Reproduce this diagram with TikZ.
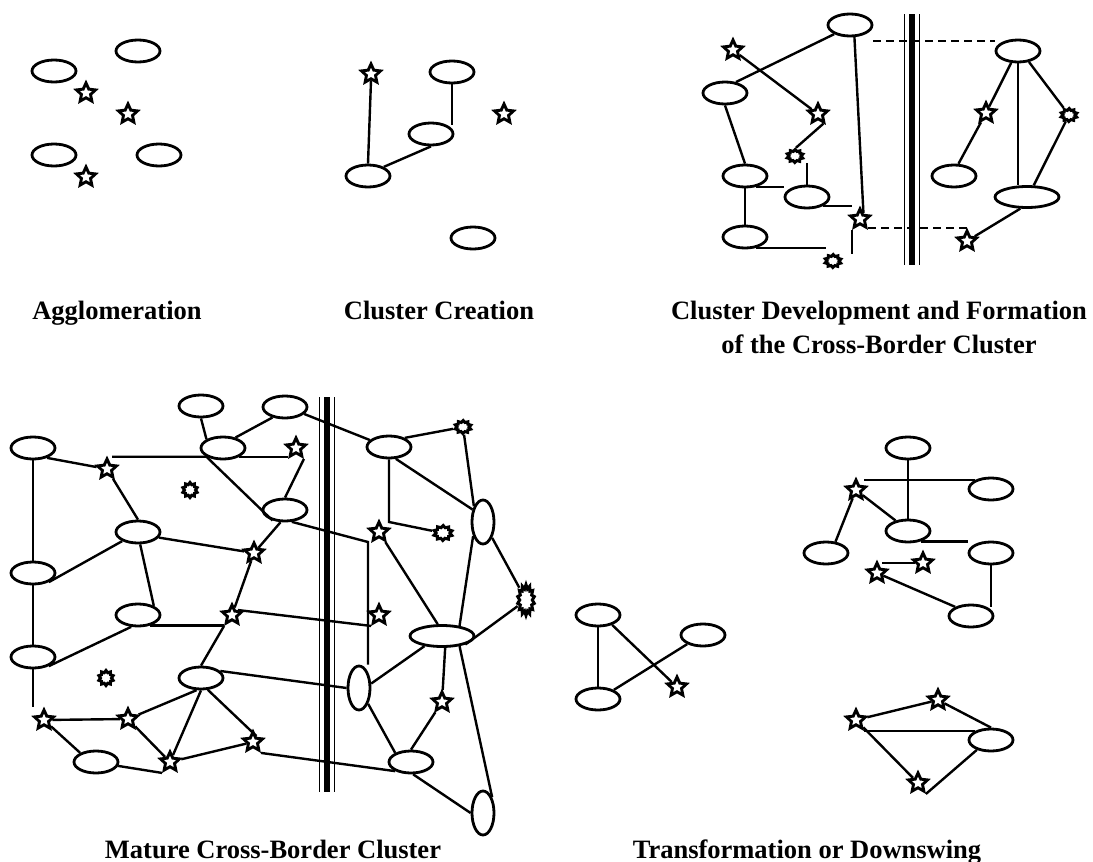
\documentclass[tikz,border=0pt]{standalone}
\usepackage{fontspec}
\setmainfont{Liberation Serif}
\usetikzlibrary{shapes.geometric}

\begin{document}
\begin{tikzpicture}[x=1pt,y=-1pt,
	firm/.style={ellipse,draw,line width=2.8pt,inner sep=0pt,minimum width=44pt,minimum height=22pt},
	firmv/.style={firm,minimum width=22pt,minimum height=44pt},
	firmw/.style={firm,minimum width=64pt,minimum height=21pt},
	actor/.style={star,star points=5,star point ratio=2.1,draw,line width=2.9pt,inner sep=0pt,minimum size=20pt},
	blobshape/.style={star,star points=10,star point ratio=1.35,draw,line width=3pt,inner sep=0pt,minimum size=13pt},
	blob/.style={blobshape,xscale=1.25,rotate=35},
	link/.style={line width=2.4pt},
	bridge/.style={line width=2.4pt,dash pattern=on 8pt off 5pt},
	title/.style={font=\fontsize{26.5}{34}\selectfont\bfseries,align=center,anchor=base}
	]
	\useasboundingbox (0,0) rectangle (1093,862);
	
	% Agglomeration
	\node[firm] (a1) at (138,51) {};
	\node[firm] (a2) at (54,71) {};
	\node[firm] (a3) at (54,155) {};
	\node[firm] (a4) at (159,155) {};
	\node[actor] (as1) at (86,93) {};
	\node[actor] (as2) at (128,114) {};
	\node[actor] (as3) at (86,177) {};
	\node[title] (lagg) at (117,319) {Agglomeration};
	
	% Cluster creation
	\node[firm] (c1) at (452,72) {};
	\node[firm] (c2) at (431,134) {};
	\node[firm] (c3) at (368,176) {};
	\node[firm] (c4) at (473,238) {};
	\node[actor] (cs1) at (371,74) {};
	\node[actor] (cs2) at (504,114) {};
	\draw[link] (cs1.south) -- (c3.north);
	\draw[link] (c1.south) -- (c1.south |- c2.north east);
	\draw[link] (c3.30) -- (c2.south);
	\node[title] (lcre) at (439,319) {Cluster Creation};
	
	% Cluster development, left of the border
	\node[firm] (dA) at (850,25) {};
	\node[firm] (dB) at (725,93) {};
	\node[firm] (dC) at (745,176) {};
	\node[firm] (dD) at (807,197) {};
	\node[firm] (dF) at (745,237) {};
	\node[actor] (ds1) at (733,50) {};
	\node[actor] (ds2) at (818,114) {};
	\node[actor] (ds3) at (860,219) {};
	\node[blob] (db1) at (795,156) {};
	\node[blob] (db2) at (833,261) {};
	\draw[link] (dA.210) -- (dB.45);
	\draw[link] (ds1) -- (ds2);
	\draw[link] (dA.-70) -- (ds3.60);
	\draw[link] (dB.south) -- (dC.north);
	\draw[link] (ds2.-60) -- (db1.50);
	\draw[link] (dD.north |- db1.south) -- (dD.north);
	\draw[link] (dC.-45) -- (dC.-45 -| dD.west);
	\draw[link] (dC.south) -- (dF.north);
	\draw[link] (dD.-30) -- (dD.-30 -| ds3.west);
	\draw[link] (dF.-45) -- (dF.-45 -| db2.west);
	\draw[link] (ds3.234) -- (ds3.234 |- db2.north);
	
	% Cluster development, right of the border
	\node[firm] (dR1) at (1018,51) {};
	\node[firm] (dR2) at (954,176) {};
	\node[firmw] (dR3) at (1027,197) {};
	\node[actor] (ds4) at (986,113) {};
	\node[actor] (ds5) at (967,241) {};
	\node[blob] (db3) at (1069,115) {};
	\draw[link] (dR1.240) -- (ds4);
	\draw[line width=1.2pt] (dR1.south) -- (dR1.south |- dR3.north);
	\draw[link] (dR1.-45) -- (db3);
	\draw[link] (ds4) -- (dR2.70);
	\draw[link] (db3) -- (dR3.60);
	\draw[link] (dR3.240) -- (ds5);
	
	% Cross-border ties
	\coordinate (dhi) at ([yshift=-16pt]dA.east);
	\coordinate (dlo) at ([yshift=-9pt]ds3.east);
	\draw[bridge] (dhi) -- (dhi -| dR1.west);
	\draw[bridge] (dlo) -- (dlo -| ds5.north);
	\foreach \bx/\bw in {-7.5/1.6,0/6,7.5/1.6}
		\draw[line width=\bw pt] (912+\bx,14) -- (912+\bx,265);
	\node[title] (ldev) at (879,353) {Cluster Development and Formation\\of the Cross-Border Cluster};
	
	% Mature cluster, left of the border
	\node[firm] (m1) at (201,406) {};
	\node[firm] (m2) at (285,407) {};
	\node[firm] (m3) at (33,448) {};
	\node[firm] (m4) at (223,448) {};
	\node[firm] (m5) at (285,510) {};
	\node[firm] (m6) at (138,532) {};
	\node[firm] (m7) at (33,573) {};
	\node[firm] (m8) at (138,615) {};
	\node[firm] (m9) at (33,657) {};
	\node[firm] (m10) at (201,678) {};
	\node[firm] (m11) at (96,762) {};
	\node[actor] (t1) at (107,469) {};
	\node[actor] (t2) at (296,448) {};
	\node[actor] (t3) at (254,553) {};
	\node[actor] (t4) at (232,615) {};
	\node[actor] (t5) at (44,720) {};
	\node[actor] (t6) at (128,719) {};
	\node[actor] (t7) at (170,762) {};
	\node[actor] (t8) at (253,742) {};
	\node[blobshape,minimum size=15pt] (k1) at (190,490) {};
	\node[blobshape,minimum size=15pt] (k2) at (106,678) {};
	
	% Mature cluster, right of the border
	\node[firm] (n1) at (389,447) {};
	\node[firmv] (nv1) at (483,522) {};
	\node[firmw] (nw) at (442,636) {};
	\node[firmv] (v1) at (359,688) {};
	\node[firm] (w1) at (411,762) {};
	\node[firmv] (v2) at (483,813) {};
	\node[actor] (u1) at (379,532) {};
	\node[actor] (u2) at (379,615) {};
	\node[actor] (u3) at (442,702) {};
	\node[blob] (p1) at (463,427) {};
	\node[blob,minimum size=15pt] (p2) at (443,533) {};
	\node[blobshape,star points=14,minimum size=17pt,yscale=1.8] (p3) at (526,600) {};
	\coordinate (mk) at (368,542);
	\coordinate (mn) at (389,522);
	
	% Ties in the mature cluster
	\draw[link] (m3.south) -- (m7.north);
	\draw[link] (m7.south) -- (m9.north);
	\draw[link] (m9.south) -- (m9.south |- t5.north);
	\draw[link] (m3.-35) -- (t1);
	\draw[link] (t1) -- (m6.north);
	\draw[link] (t1.north east |- m4.south west) -- (m4.south west) -- (m5.220);
	\draw[link] (m1.south) -- (m4.north west);
	\draw[link] (m2.220) -- (m4.40);
	\draw[link] (m4.-30) -- (m4.-30 -| t2.west);
	\draw[link] (m2.-20) -- (n1.160);
	\draw[link] (t2.-54) -- (m5.north);
	\draw[link] (m5.-60) -- (mk) -- (mk |- v1.north);
	\draw[link] (m5.-110) -- (t3);
	\draw[link] (m6.-15) -- (t3);
	\draw[link] (m6.-150) -- (m7.-30);
	\draw[link] (m6.-80) -- (m8.30);
	\draw[link] (t3) -- (t4);
	\draw[link] (t4.40) -- (u2.234);
	\draw[link] (m8.-40) -- (m8.-40 -| t4.west);
	\draw[link] (m8.-120) -- (m9.-30);
	\draw[link] (t4.234) -- (m10.north);
	\draw[link] (m10.20) -- (v1.west);
	\draw[link] (m10.-110) -- (t6);
	\draw[link] (m10.south) -- (t7);
	\draw[link] (m10.-60) -- (t8.60);
	\draw[link] (t5) -- (t6);
	\draw[link] (t6) -- (t7);
	\draw[link] (t5) -- (m11.150);
	\draw[link] (m11.-10) -- (t7.234);
	\draw[link] (t7) -- (t8);
	\draw[link] (t8.306) -- (w1.210);
	\draw[link] (n1.30) -- (p1);
	\draw[link] (p1) -- (nv1.120);
	\draw[link] (n1.-60) -- (nv1.130);
	\draw[link] (n1.south) -- (mn) -- (p2);
	\draw[link] (nv1.-125) -- (nw.30);
	\draw[link] (nv1.-60) -- (p3);
	\draw[link] (p3) -- (nw.-20);
	\draw[link] (u1) -- (nw.110);
	\draw[link] (nw.-150) -- (v1.20);
	\draw[link] (nw.-75) -- (u3);
	\draw[link] (u3) -- (w1.north);
	\draw[link] (v1.-60) -- (w1.150);
	\draw[link] (w1.-80) -- (v2.west);
	\draw[link] (nw.-30) -- (v2.60);
	\foreach \bx/\bw in {-7.5/1.6,0/6,7.5/1.6}
		\draw[line width=\bw pt] (327+\bx,397) -- (327+\bx,792);
	\node[title] (lmat) at (273,858) {Mature Cross-Border Cluster};
	
	% Transformation or downswing
	\node[firm] (q1) at (908,448) {};
	\node[firm] (q2) at (991,489) {};
	\node[firm] (q3) at (908,531) {};
	\node[firm] (q4) at (826,553) {};
	\node[firm] (q5) at (991,553) {};
	\node[firm] (q6) at (971,616) {};
	\node[actor] (r1) at (856,490) {};
	\node[actor] (r2) at (923,563) {};
	\node[actor] (r3) at (877,573) {};
	\draw[link] (q1.south) -- (q3.north);
	\draw[link] (q2.150 -| r1.east) -- (q2.150);
	\draw[link] (r1) -- (q3.140);
	\draw[link] (r1) -- (q4.50);
	\draw[link] (q3.-40) -- (q3.-40 -| q5.west);
	\draw[link] (r2.west -| r3.north east) -- (r2.west);
	\draw[link] (r3) -- (q6.150);
	\draw[link] (q5.south) -- (q5.south |- q6.north east);
	
	\node[firm] (o1) at (598,615) {};
	\node[firm] (o2) at (703,635) {};
	\node[firm] (o3) at (598,699) {};
	\node[actor] (x1) at (677,687) {};
	\draw[link] (o1.south) -- (o3.north);
	\draw[link] (o1.-35) -- (x1);
	\draw[link] (o3.30) -- (o2.-150);
	
	\node[actor] (y1) at (856,720) {};
	\node[actor] (y2) at (938,700) {};
	\node[firm] (y3) at (991,740) {};
	\node[actor] (y4) at (918,783) {};
	\draw[link] (y1) -- (y2);
	\draw[link] (y3.150 -| y1.east) -- (y3.150);
	\draw[link] (y2) -- (y3.north);
	\draw[link] (y1) -- (y4);
	\draw[link] (y4.306) -- (y3.-145);
	\node[title] (ltra) at (807,858) {Transformation or Downswing};
\end{tikzpicture}
\end{document}
